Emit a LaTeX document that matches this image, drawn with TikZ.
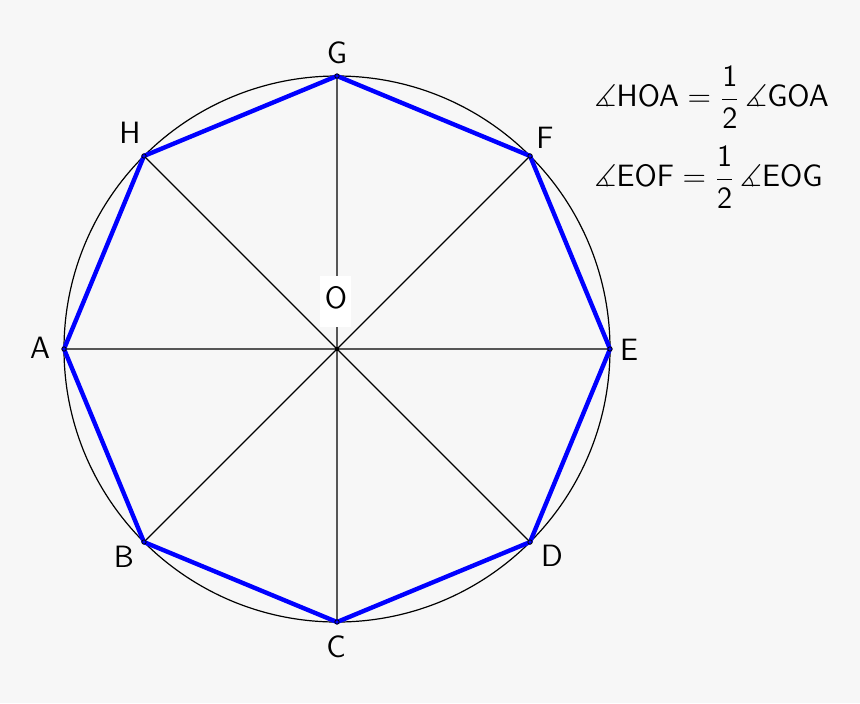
\documentclass[tikz,border=0pt]{standalone}
\usepackage{amsmath,amssymb}
\usetikzlibrary{calc}
\newcommand{\bigtxt}[1]{\scalebox{1.07}{#1}}
\begin{document}
\begin{tikzpicture}[x=0.5pt,y=-0.5pt,
  thinline/.style={black,line width=0.6pt},
  poly/.style={blue,line width=2.2pt,line join=round},
  lbl/.style={font=\sffamily\fontsize{14.4}{17}\selectfont,inner sep=0pt},
  vdot/.style={circle,draw=black,fill=blue,line width=0.4pt,minimum size=2.2pt,inner sep=0pt}]
\fill[black!3] (0,0) rectangle (860,703);
\useasboundingbox (0,0) rectangle (860,703);
\coordinate (O) at (337,349);
\draw[thinline] (O) circle[radius=273];
\foreach \n/\a in {E/0,F/45,G/90,H/135,A/180,B/225,C/270,D/315}{
  \coordinate (\n) at ($(O)+(\a:273)$);
}
\draw[thinline] (A) -- (E) (G) -- (C) (H) -- (D) (B) -- (F);
\draw[poly] (A) -- (B) -- (C) -- (D) -- (E) -- (F) -- (G) -- (H) -- cycle;
\foreach \n in {A,B,C,D,E,F,G,H}{ \node[vdot] (d\n) at (\n) {}; }
\fill[black] (O) circle[radius=2];
\fill[white] (320,276) rectangle (351,327);
\node[lbl] (lO) at (336,298) {\bigtxt{O}};
\node[lbl] (lG) at (337,53) {\bigtxt{G}};
\node[lbl] (lH) at (130,133) {\bigtxt{H}};
\node[lbl] (lF) at (545,138) {\bigtxt{F}};
\node[lbl] (lA) at (40,348) {\bigtxt{A}};
\node[lbl] (lE) at (629,350) {\bigtxt{E}};
\node[lbl] (lB) at (124,557) {\bigtxt{B}};
\node[lbl] (lC) at (336,647) {\bigtxt{C}};
\node[lbl] (lD) at (552,556) {\bigtxt{D}};
\node[lbl,anchor=west] (f1) at (594,97) {\bigtxt{$\measuredangle\mathsf{HOA}=\dfrac{\mathsf{1}}{\mathsf{2}}\,\measuredangle\mathsf{GOA}$}};
\node[lbl,anchor=west] (f2) at (594,177) {\bigtxt{$\measuredangle\mathsf{EOF}=\dfrac{\mathsf{1}}{\mathsf{2}}\,\measuredangle\mathsf{EOG}$}};
\end{tikzpicture}
\end{document}
